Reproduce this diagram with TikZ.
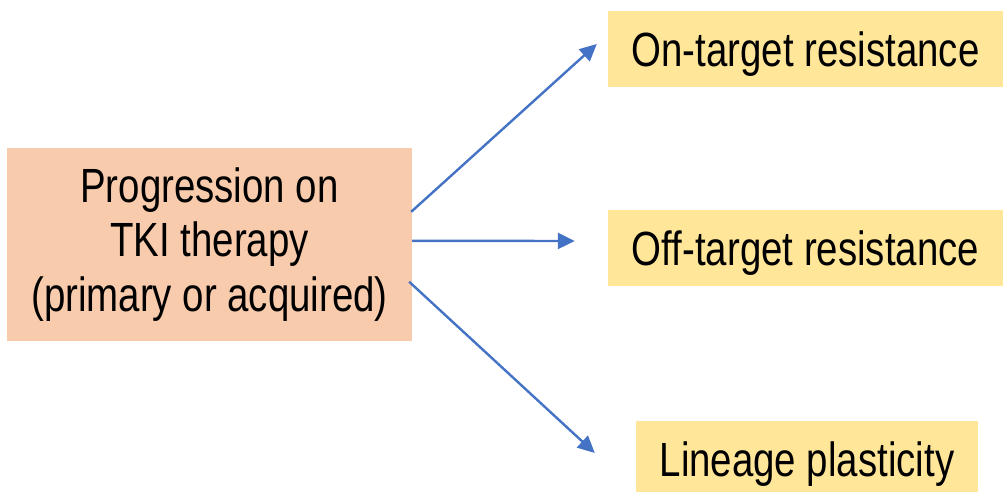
\documentclass[tikz,border=0pt]{standalone}
\usepackage{fontspec}
\setmainfont{Liberation Sans}[FakeStretch=0.80]
\usetikzlibrary{arrows.meta,calc}
\definecolor{peachfill}{HTML}{F8CBAD}
\definecolor{goldfill}{HTML}{FFE699}
\definecolor{linkblue}{HTML}{4472C4}
\tikzset{
  causebox/.style={fill=peachfill, draw=none, inner sep=0pt,
    minimum width=405pt, minimum height=193pt, align=center,
    font=\fontsize{48}{54.5}\selectfont},
  outcomebox/.style={fill=goldfill, draw=none, inner sep=0pt,
    minimum height=76pt, text height=34.4pt, text depth=0pt,
    font=\fontsize{48}{54.5}\selectfont},
  link/.style={draw=linkblue, line width=2.4pt,
    -{Triangle[length=17pt,width=16pt]}}
}
\begin{document}
\begin{tikzpicture}[x=1pt,y=-1pt]
\useasboundingbox (0,0) rectangle (1005,492);

% source box
\node[causebox] (prog) at (209.5,244.5)
  {Progression on\\TKI therapy\\(primary or acquired)};

% outcome boxes
\node[outcomebox, minimum width=395pt] (ontarget) at (805.5,49) {On-target resistance};
\node[outcomebox, minimum width=395pt] (offtarget) at (805.5,248) {Off-target resistance};
\node[outcomebox, minimum width=342pt] (lineage) at (807,459) {Lineage plasticity};

% arrow tips stop short of the outcome boxes
\coordinate (tipon)  at ($(ontarget.west)+(-11,-5)$);
\coordinate (tipoff) at ($(offtarget.west)+(-33,-7)$);
\coordinate (tiplin) at ($(lineage.west)+(-41,-6)$);

\draw[link] ($(prog.north east)+(-1,64)$) -- (tipon);
\draw[link] ($(prog.north east)+(0,93)$) -- (tipoff);
\draw[link] ($(prog.north east)+(-3,134)$) -- (tiplin);
\end{tikzpicture}
\end{document}
